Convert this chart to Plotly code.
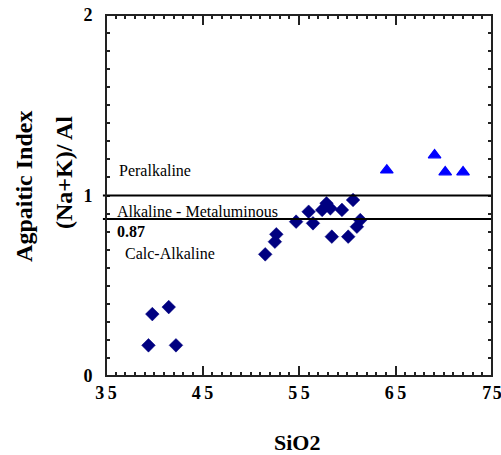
import plotly.graph_objects as go

# Calc-alkaline / alkaline samples (diamonds)
sio2_diamond = [39.4, 39.8, 41.5, 42.25, 51.5, 52.5, 52.65, 54.7, 56.0, 56.45,
                57.4, 57.85, 58.25, 58.4, 59.45, 60.1, 60.6, 61.0, 61.35]
ai_diamond = [0.17, 0.343, 0.382, 0.17, 0.674, 0.744, 0.785, 0.855, 0.91, 0.846,
              0.92, 0.957, 0.929, 0.772, 0.92, 0.772, 0.975, 0.827, 0.864]

# Peralkaline samples (triangles)
sio2_triangle = [64.1, 69.05, 70.15, 72.0]
ai_triangle = [1.14, 1.224, 1.13, 1.13]

boundaries = [1.0, 0.87]
x_ticks = [35, 45, 55, 65, 75]
x_tick_labels = ["35", "45", "55", "65", "75"]
y_ticks = [0, 1, 2]
y_tick_labels = ["0", "1", "2"]

SERIF = "Liberation Serif"

fig = go.Figure()
fig.add_trace(go.Scatter(
    x=sio2_diamond, y=ai_diamond, mode="markers",
    marker=dict(symbol="diamond", size=10.5, color="#000080",
                line=dict(width=0.5, color="#000080")),
    showlegend=False, hoverinfo="x+y"))
fig.add_trace(go.Scatter(
    x=sio2_triangle, y=ai_triangle, mode="markers",
    marker=dict(symbol="triangle-up", size=11, color="#0000FF",
                line=dict(width=1.2, color="#0000FF")),
    showlegend=False, hoverinfo="x+y"))

for b in boundaries:
    fig.add_shape(type="line", xref="paper", yref="y", x0=-0.008, x1=1,
                  y0=b, y1=b, line=dict(color="black", width=2))

# plot frame
fig.add_shape(type="rect", xref="paper", yref="paper", x0=0, x1=1, y0=0, y1=1,
              line=dict(color="#222222", width=2), fillcolor="rgba(0,0,0,0)")

labels = [
    ("Peralkaline", 36.15, 1.136, False),
    ("Alkaline - Metaluminous", 35.95, 0.914, False),
    (f"{boundaries[1]:.2f}", 35.95, 0.803, True),
    ("Calc-Alkaline", 36.8, 0.681, False),
]
for txt, x, y, bold in labels:
    fig.add_annotation(x=x, y=y, xref="x", yref="y", text=(f"<b>{txt}</b>" if bold else txt),
                       showarrow=False, xanchor="left", yanchor="middle",
                       font=dict(family=SERIF, size=16, color="black"))

fig.add_annotation(x=-0.213, y=0.526, xref="paper", yref="paper",
                   text="<b>Agpaitic Index</b>", textangle=-90, showarrow=False,
                   xanchor="center", yanchor="middle",
                   font=dict(family=SERIF, size=24, color="black"))
fig.add_annotation(x=-0.109, y=0.565, xref="paper", yref="paper",
                   text="<b>(Na+K)/ Al</b>", textangle=-90, showarrow=False,
                   xanchor="center", yanchor="middle",
                   font=dict(family=SERIF, size=24, color="black"))
fig.add_annotation(x=0.495, y=-0.183, xref="paper", yref="paper",
                   text="<b>SiO2</b>", showarrow=False,
                   xanchor="center", yanchor="middle",
                   font=dict(family=SERIF, size=22, color="black"))

tickfont = dict(family=SERIF, size=18, color="black")
x_text = ["<b>" + "\u2009".join(t) + "</b>" for t in x_tick_labels[:-1]] + \
         ["<b>" + "\u200a".join(x_tick_labels[-1]) + "</b>"]
y_text = ["<b>" + t + "</b>\u2002" for t in y_tick_labels]

fig.update_xaxes(range=[35, 75], tickmode="array", tickvals=x_ticks, ticktext=x_text,
                 ticks="inside", ticklen=10, tickwidth=2, tickcolor="#222222",
                 showline=True, linecolor="#222222", mirror="ticks",
                 tickfont=tickfont, automargin=False, ticklabeloverflow="allow",
                 minor=dict(dtick=1, ticks="inside", ticklen=4,
                            tickcolor="#222222", tickwidth=1.5))
fig.update_yaxes(range=[0, 2], tickmode="array", tickvals=y_ticks, ticktext=y_text,
                 ticks="inside", ticklen=4, tickwidth=2, tickcolor="#222222",
                 showline=True, linecolor="#222222", mirror="ticks",
                 tickfont=tickfont, automargin=False, ticklabeloverflow="allow",
                 minor=dict(dtick=0.1, ticks="inside", ticklen=4,
                            tickcolor="#222222", tickwidth=1.5))

fig.update_layout(width=501, height=455, margin=dict(l=106, r=9, t=15, b=79),
                  plot_bgcolor="white", showlegend=False)

fig.write_html("out.html", config={"displayModeBar": False},
               post_script="document.body.style.margin='0';")
